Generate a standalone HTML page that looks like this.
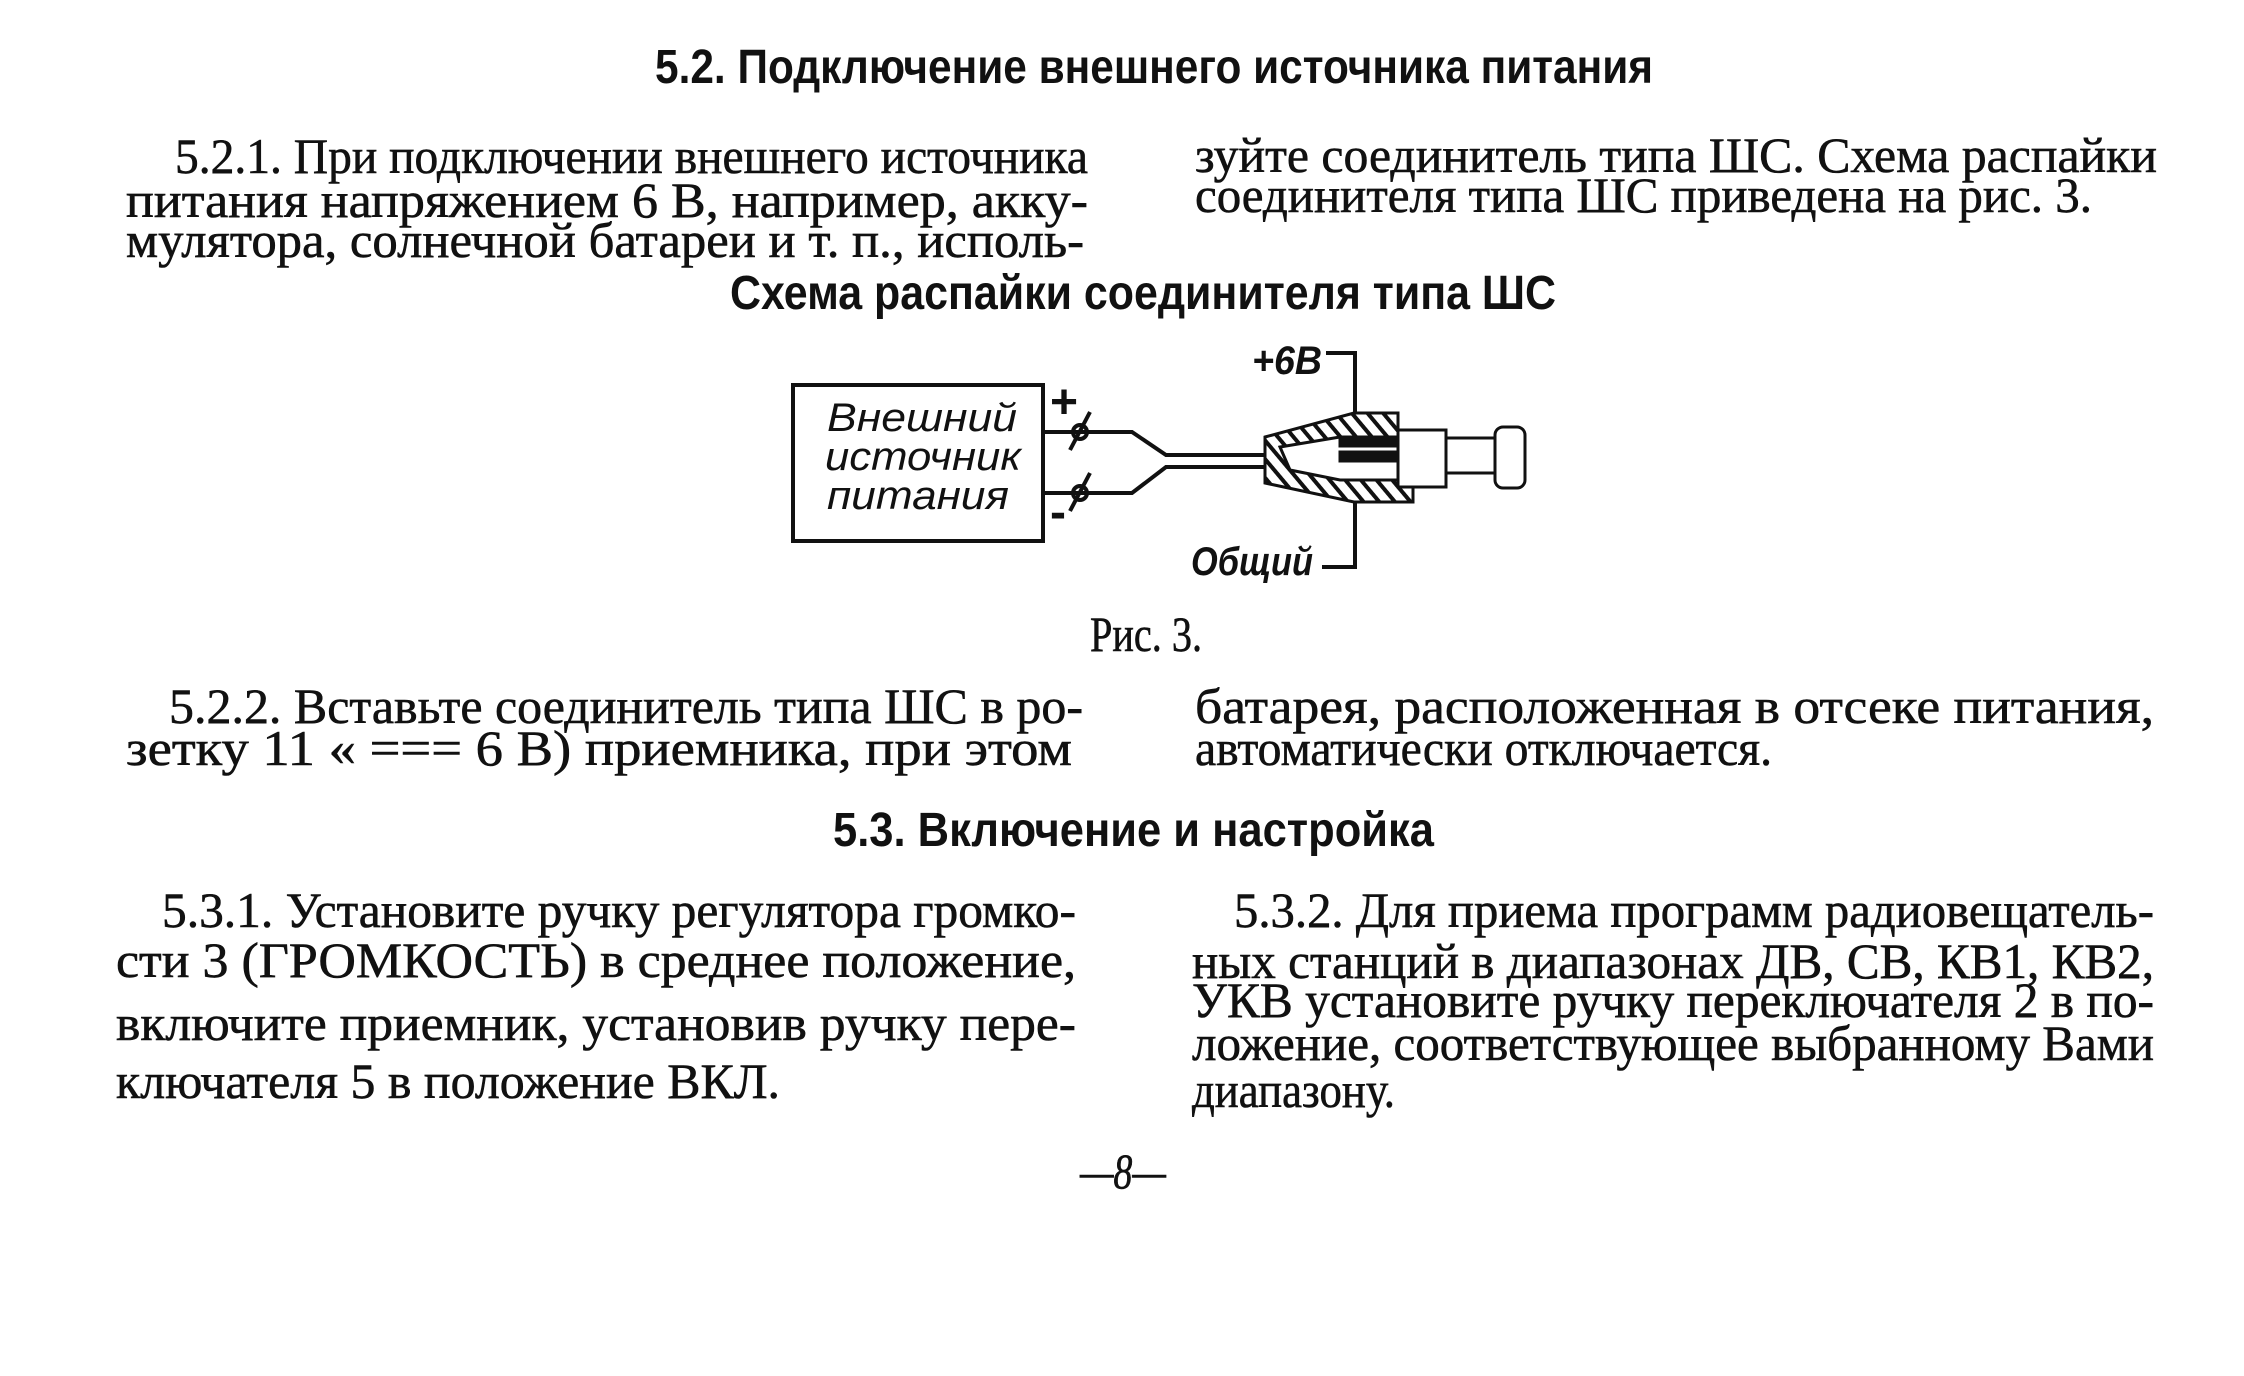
<!DOCTYPE html>
<html><head><meta charset="utf-8"><style>
html,body{margin:0;padding:0;background:#fff;}
svg{display:block}
.b{font-family:"Liberation Serif","DejaVu Serif",serif;font-size:50px;fill:#111;stroke:#111;stroke-width:0.6}
.h{font-family:"Liberation Sans","DejaVu Sans",sans-serif;font-weight:bold;font-size:48px;fill:#111}
.i{font-family:"Liberation Sans","DejaVu Sans",sans-serif;font-style:italic;font-size:40px;fill:#111}
</style></head><body>
<svg width="2244" height="1376" viewBox="0 0 2244 1376" xmlns="http://www.w3.org/2000/svg">
<defs>
<pattern id="hat" width="12" height="12" patternUnits="userSpaceOnUse" patternTransform="rotate(-40)">
<rect width="12" height="12" fill="#fff"/><rect width="4" height="12" fill="#111"/></pattern>
</defs>
<rect width="2244" height="1376" fill="#fff"/>
<text class="h" x="655" y="83" textLength="998" lengthAdjust="spacingAndGlyphs">5.2. Подключение внешнего источника  питания</text>

<text class="b" x="175" y="173" textLength="913" lengthAdjust="spacingAndGlyphs">5.2.1. При подключении внешнего источника</text>
<text class="b" x="126" y="217" textLength="962" lengthAdjust="spacingAndGlyphs">питания  напряжением  6  В,  например,  акку-</text>
<text class="b" x="126" y="257" textLength="958" lengthAdjust="spacingAndGlyphs">мулятора, солнечной  батареи  и  т.  п.,  исполь-</text>
<text class="b" x="1195" y="172" textLength="962" lengthAdjust="spacingAndGlyphs">зуйте соединитель типа ШС. Схема распайки</text>
<text class="b" x="1195" y="212" textLength="897" lengthAdjust="spacingAndGlyphs">соединителя типа ШС приведена на рис. 3.</text>

<text class="h" x="730" y="309" textLength="826" lengthAdjust="spacingAndGlyphs">Схема  распайки  соединителя  типа  ШС</text>

<!-- diagram -->
<g stroke="#111" stroke-width="4" fill="none">
<rect x="793" y="385" width="250" height="156"/>
<polyline points="1043,432 1132,432 1166,455 1270,455"/>
<polyline points="1043,493 1132,493 1166,467 1270,467"/>
<circle cx="1080" cy="432" r="7"/><line x1="1070" y1="450" x2="1090" y2="412"/>
<circle cx="1080" cy="493" r="7"/><line x1="1070" y1="511" x2="1090" y2="473"/>
<polyline points="1326,353 1355,353 1355,413"/>
<polyline points="1355,502 1355,567 1322,567"/>
</g>
<g stroke="#111" stroke-width="3">
<polygon points="1265,437 1354,413 1398,413 1398,433 1413,452 1413,502 1354,502 1265,483" fill="url(#hat)"/>
<polygon points="1280,447 1340,437 1398,437 1398,480 1340,480 1290,470" fill="#fff"/>
<rect x="1340" y="438" width="60" height="8" fill="#111"/>
<rect x="1340" y="452" width="70" height="9" fill="#111"/>
<rect x="1398" y="430" width="48" height="57" fill="#fff"/>
<rect x="1446" y="438" width="49" height="35" fill="#fff"/>
<rect x="1495" y="427" width="30" height="61" rx="8" fill="#fff"/>
</g>
<text class="i" x="827" y="431" textLength="190" lengthAdjust="spacingAndGlyphs">Внешний</text>
<text class="i" x="825" y="470" textLength="196" lengthAdjust="spacingAndGlyphs">источник</text>
<text class="i" x="827" y="509" textLength="182" lengthAdjust="spacingAndGlyphs">питания</text>
<text class="h" x="1050" y="418" font-size="34">+</text>
<text class="h" x="1050" y="528" font-size="34">-</text>
<text class="i" x="1252" y="374" textLength="70" lengthAdjust="spacingAndGlyphs" font-weight="bold">+6В</text>
<text class="i" x="1191" y="575" textLength="122" lengthAdjust="spacingAndGlyphs" font-weight="bold">Общий</text>

<text class="b" x="1090" y="651" font-size="36" textLength="112" lengthAdjust="spacingAndGlyphs">Рис. 3.</text>

<text class="b" x="169" y="723" textLength="914" lengthAdjust="spacingAndGlyphs">5.2.2. Вставьте соединитель типа ШС в ро-</text>
<text class="b" x="126" y="765" textLength="946" lengthAdjust="spacingAndGlyphs">зетку 11  «  ===   6  В)  приемника,  при   этом</text>
<text class="b" x="1195" y="723" textLength="959" lengthAdjust="spacingAndGlyphs">батарея,   расположенная  в  отсеке   питания,</text>
<text class="b" x="1195" y="765" textLength="577" lengthAdjust="spacingAndGlyphs">автоматически отключается.</text>

<text class="h" x="833" y="846" textLength="601" lengthAdjust="spacingAndGlyphs">5.3.  Включение  и  настройка</text>

<text class="b" x="162" y="927" textLength="914" lengthAdjust="spacingAndGlyphs">5.3.1. Установите ручку регулятора громко-</text>
<text class="b" x="116" y="977" textLength="960" lengthAdjust="spacingAndGlyphs">сти  3  (ГРОМКОСТЬ)  в  среднее  положение,</text>
<text class="b" x="116" y="1040" textLength="960" lengthAdjust="spacingAndGlyphs">включите  приемник,  установив   ручку  пере-</text>
<text class="b" x="116" y="1098" textLength="664" lengthAdjust="spacingAndGlyphs">ключателя 5 в положение ВКЛ.</text>

<text class="b" x="1234" y="927" textLength="920" lengthAdjust="spacingAndGlyphs">5.3.2. Для приема программ радиовещатель-</text>
<text class="b" x="1192" y="978" textLength="962" lengthAdjust="spacingAndGlyphs">ных станций в диапазонах ДВ, СВ, КВ1, КВ2,</text>
<text class="b" x="1192" y="1017" textLength="962" lengthAdjust="spacingAndGlyphs">УКВ установите ручку переключателя 2 в по-</text>
<text class="b" x="1192" y="1060" textLength="962" lengthAdjust="spacingAndGlyphs">ложение, соответствующее выбранному Вами</text>
<text class="b" x="1192" y="1107" textLength="203" lengthAdjust="spacingAndGlyphs">диапазону.</text>

<text class="b" x="1080" y="1188" font-size="34" font-style="italic" textLength="86" lengthAdjust="spacingAndGlyphs">—8—</text>
</svg>
</body></html>
